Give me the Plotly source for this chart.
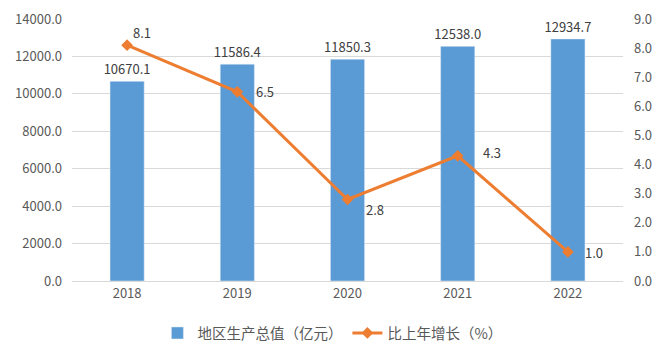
import plotly.graph_objects as go

years = ["2018", "2019", "2020", "2021", "2022"]
gdp = [10670.1, 11586.4, 11850.3, 12538.0, 12934.7]
growth = [8.1, 6.5, 2.8, 4.3, 1.0]
# label offsets (pixels) for the growth labels, relative to each point
label_dx = [4, 17, 16, 23, 15]
label_dy = [13, 0, -10, 3, -1]

font_family = "Noto Sans CJK SC, Noto Sans, sans-serif"
tick_color = "#595959"
label_color = "#404040"

fig = go.Figure()
fig.add_trace(go.Bar(
    x=years, y=gdp, name="地区生产总值（亿元）",
    marker_color="#5B9BD5", width=0.31,
    text=[f"{v:.1f}" for v in gdp], textposition="outside",
    constraintext="none",
    textfont=dict(size=13, color=label_color, family=font_family),
    cliponaxis=False,
))
fig.add_trace(go.Scatter(
    x=years, y=growth, name="比上年增长（%）", yaxis="y2",
    mode="lines+markers",
    line=dict(color="#ED7D31", width=3),
    marker=dict(symbol="diamond", size=9, color="#ED7D31"),
    cliponaxis=False,
))

for i, (g, dx, dy) in enumerate(zip(growth, label_dx, label_dy)):
    fig.add_annotation(x=i, y=g, xref="x", yref="y2", text=f"{g:.1f}",
                       showarrow=False, xanchor="left", yanchor="middle",
                       xshift=dx, yshift=dy,
                       font=dict(size=13, color=label_color, family=font_family))

# page body has an 8px default margin, so the figure is drawn 8px smaller
fig.update_layout(
    width=659, height=351,
    margin=dict(l=64, r=44, t=11, b=77),
    paper_bgcolor="white", plot_bgcolor="white",
    font=dict(family=font_family, size=13, color=tick_color),
    xaxis=dict(type="category", showgrid=False, showline=True, linecolor="#D9D9D9",
               tickfont=dict(size=13, color=tick_color), ticks="", automargin=False),
    yaxis=dict(range=[0, 14000], dtick=2000, tickformat=".1f",
               showgrid=True, gridcolor="#D9D9D9", zeroline=False, automargin=False,
               tickfont=dict(size=13, color=tick_color), ticklabelstandoff=9),
    yaxis2=dict(range=[0, 9], dtick=1, tickformat=".1f", overlaying="y",
                side="right", showgrid=False, zeroline=False, automargin=False,
                tickfont=dict(size=13, color=tick_color), ticklabelstandoff=10),
    legend=dict(orientation="h", x=0.155, xanchor="left", y=-0.194, yanchor="middle",
                font=dict(size=14.5, color=tick_color), itemwidth=30),
    showlegend=True,
)

fig.write_html("out.html")
